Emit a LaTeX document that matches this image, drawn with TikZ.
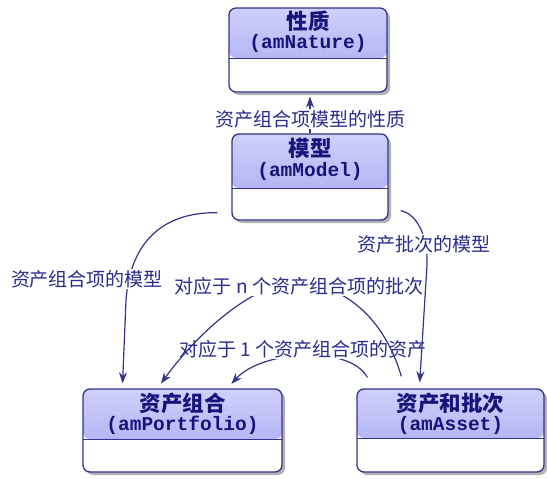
\documentclass[tikz,border=0pt]{standalone}
\usepackage{fontspec}
\newfontfamily\cjk{Noto Sans CJK SC}
\newfontfamily\mono{Liberation Mono}
\usetikzlibrary{arrows.meta,shadows}
\definecolor{bordercol}{HTML}{33338C}
\definecolor{hdtop}{HTML}{D0D0FC}
\definecolor{hdbot}{HTML}{A4A4F0}
\definecolor{boxtext}{HTML}{14147A}
\definecolor{labtext}{HTML}{2B2B8C}
\definecolor{linecol}{HTML}{34348A}
\begin{document}
\begin{tikzpicture}[x=1pt,y=-1pt,
  umlbox/.style={draw=bordercol, line width=1.3pt, rounded corners=7pt, fill=white,
    inner sep=0pt,
    drop shadow={shadow xshift=3pt, shadow yshift=-3pt, opacity=0.3, fill=black},
    path picture={
      \shade[top color=hdtop, bottom color=hdbot]
        (path picture bounding box.north west) rectangle ([yshift=-#1]path picture bounding box.north east);
      \draw[bordercol, line width=1pt]
        ([yshift=-#1]path picture bounding box.north west) -- ([yshift=-#1]path picture bounding box.north east);
    }},
  titletext/.style={font=\cjk\bfseries\fontsize{21.5}{22}\selectfont, text=boxtext, inner sep=0pt},
  codetext/.style={font=\mono\bfseries\fontsize{19.5}{20}\selectfont, text=boxtext, inner sep=0pt},
  lab/.style={font=\cjk\fontsize{19}{20}\selectfont, text=labtext, fill=white, inner sep=1.5pt},
  conn/.style={draw=linecol, line width=1.2pt, -{Stealth[length=11pt,width=8pt,inset=3.5pt]}}
]
\useasboundingbox (0,0) rectangle (547,479);

% boxes
\node[umlbox=50pt, minimum width=158pt, minimum height=84pt] (nature) at (308,50) {};
\node[titletext] (natureT) at (308,21) {性质};
\node[codetext] (natureC) at (308,43) {(amNature)};

\node[umlbox=54pt, minimum width=156pt, minimum height=86pt] (model) at (310,177) {};
\node[titletext] (modelT) at (310,148) {模型};
\node[codetext] (modelC) at (310,171) {(amModel)};

\node[umlbox=50pt, minimum width=199pt, minimum height=83pt] (portfolio) at (182.5,430.5) {};
\node[titletext] (portfolioT) at (182.5,403) {资产组合};
\node[codetext] (portfolioC) at (182.5,425) {(amPortfolio)};

\node[umlbox=49pt, minimum width=187pt, minimum height=83pt] (asset) at (450.5,430.5) {};
\node[titletext] (assetT) at (450.5,403) {资产和批次};
\node[codetext] (assetC) at (450.5,425) {(amAsset)};

% model -> nature
\draw[conn, shorten >=4pt] (model.north) -- (model.north |- nature.south);
\node[lab] (l0) at (310,119) {资产组合项模型的性质};

% asset -> portfolio (1)
\draw[conn, shorten >=6pt] ([xshift=11pt,yshift=11pt]asset.north west)
  .. controls (350,345) and (262,350) .. ([xshift=145pt]portfolio.north west);
\node[lab] (l4) at (303,349) {对应于 1 个资产组合项的资产};

% asset -> portfolio (n)
\draw[conn, shorten >=6pt] ([xshift=45pt,yshift=12pt]asset.north west)
  .. controls (385,320) and (345,283) .. (295,283)
  .. controls (255,283) and (200,330) .. ([xshift=75pt]portfolio.north west);
\node[lab] (l3) at (299,286) {对应于 n 个资产组合项的批次};

% model -> portfolio
\draw[conn, shorten >=5pt] ([xshift=-14pt,yshift=8pt]model.south west)
  .. controls (160,212) and (130,245) .. (126,300) -- ([xshift=40pt]portfolio.north west);
\node[lab] (l1) at (87,279) {资产组合项的模型};

% model -> asset
\draw[conn, shorten >=6pt] ([xshift=12pt,yshift=10pt]model.south east)
  .. controls (418,214) and (428,238) .. (427,265) -- ([xshift=63pt]asset.north west);
\node[lab] (l2) at (424,244) {资产批次的模型};
\end{tikzpicture}
\end{document}
